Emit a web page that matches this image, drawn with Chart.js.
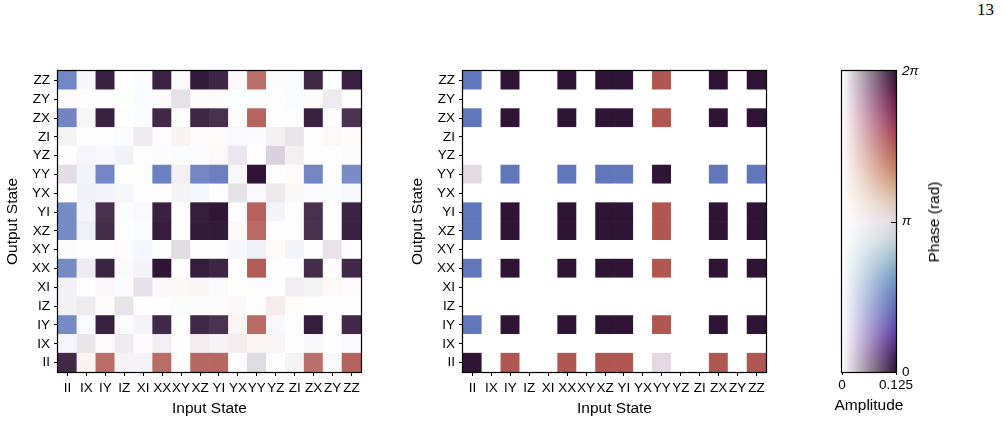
<!DOCTYPE html>
<html>
<head>
<meta charset="utf-8">
<script src="https://cdn.jsdelivr.net/npm/chart.js@4.4.1/dist/chart.umd.min.js"></script>
<style>
  html, body { margin: 0; padding: 0; background: #fff; }
  body { width: 1003px; height: 426px; position: relative; overflow: hidden;
         font-family: "Liberation Sans", Arial, sans-serif; color: #000; }
  canvas { position: absolute; top: 0; }
  #pageNum { position: absolute; left: 977px; top: 0px; font-family: "Liberation Serif", "DejaVu Serif", serif; font-size: 17px; }
  #phaseTitle { position: absolute; left: 934px; top: 222px; transform: translate(-50%, -50%) rotate(-90deg);
                font-size: 15.5px; white-space: nowrap; }
  #ampTitle { position: absolute; left: 869px; top: 405px; transform: translate(-50%, -50%);
              font-size: 15.5px; white-space: nowrap; }
</style>
</head>
<body>
<div id="pageNum">13</div>
<canvas id="expChart" width="370" height="426" style="left:0px"></canvas>
<canvas id="idealChart" width="370" height="426" style="left:405px"></canvas>
<canvas id="cbarChart" width="203" height="426" style="left:800px"></canvas>
<div id="phaseTitle">Phase (rad)</div>
<div id="ampTitle">Amplitude</div>

<script>
// Pauli basis states, rows go bottom (II) to top (ZZ)
const stateLabels = ['II', 'IX', 'IY', 'IZ', 'XI', 'XX', 'XY', 'XZ', 'YI', 'YX', 'YY', 'YZ', 'ZI', 'ZX', 'ZY', 'ZZ'];
const ampMax = 0.125;

// measured process matrix: amplitude, one row per output state
const expAmp = [
  [0.114, 0.009, 0.109, 0.007, 0.007, 0.109, 0.001, 0.112, 0.113, 0.001, 0.108, 0.001, 0.006, 0.107, 0.005, 0.116],
  [0.007, 0.013, 0.003, 0.010, 0.005, 0.009, 0.001, 0.012, 0.007, 0.012, 0.012, 0.006, 0.001, 0.004, 0.001, 0.005],
  [0.108, 0.004, 0.119, 0.004, 0.008, 0.114, 0.004, 0.114, 0.109, 0.010, 0.111, 0.004, 0.001, 0.121, 0.001, 0.114],
  [0.007, 0.010, 0.005, 0.014, 0.004, 0.004, 0.002, 0.002, 0.003, 0.005, 0.001, 0.014, 0.003, 0.003, 0.001, 0.001],
  [0.007, 0.001, 0.006, 0.004, 0.016, 0.006, 0.007, 0.007, 0.005, 0.003, 0.003, 0.001, 0.010, 0.006, 0.006, 0.003],
  [0.108, 0.011, 0.117, 0.004, 0.008, 0.125, 0.001, 0.121, 0.116, 0.001, 0.121, 0.001, 0.001, 0.112, 0.001, 0.114],
  [0.002, 0.001, 0.001, 0.003, 0.009, 0.001, 0.019, 0.001, 0.001, 0.007, 0.012, 0.005, 0.009, 0.001, 0.015, 0.001],
  [0.108, 0.013, 0.112, 0.001, 0.004, 0.121, 0.001, 0.122, 0.122, 0.006, 0.111, 0.001, 0.001, 0.110, 0.001, 0.118],
  [0.108, 0.008, 0.110, 0.003, 0.005, 0.118, 0.001, 0.121, 0.124, 0.001, 0.116, 0.008, 0.001, 0.110, 0.001, 0.117],
  [0.001, 0.011, 0.010, 0.009, 0.001, 0.002, 0.006, 0.009, 0.001, 0.015, 0.003, 0.012, 0.004, 0.004, 0.004, 0.006],
  [0.112, 0.012, 0.112, 0.002, 0.002, 0.116, 0.009, 0.111, 0.115, 0.004, 0.125, 0.001, 0.005, 0.112, 0.001, 0.105],
  [0.001, 0.007, 0.004, 0.011, 0.001, 0.002, 0.004, 0.004, 0.006, 0.013, 0.004, 0.025, 0.008, 0.001, 0.001, 0.004],
  [0.006, 0.001, 0.001, 0.004, 0.011, 0.003, 0.010, 0.004, 0.004, 0.005, 0.004, 0.008, 0.014, 0.001, 0.006, 0.004],
  [0.109, 0.005, 0.119, 0.001, 0.004, 0.114, 0.001, 0.115, 0.110, 0.004, 0.115, 0.001, 0.001, 0.119, 0.004, 0.109],
  [0.002, 0.001, 0.001, 0.002, 0.004, 0.004, 0.016, 0.004, 0.004, 0.002, 0.001, 0.001, 0.004, 0.005, 0.011, 0.004],
  [0.112, 0.006, 0.119, 0.001, 0.003, 0.117, 0.003, 0.122, 0.116, 0.005, 0.107, 0.004, 0.003, 0.114, 0.002, 0.119]
];
// measured phase, in units of pi
const expPhase = [
  [0, 1.5, 1.5, 0.2, 0.2, 1.5, 0, 1.5, 1.5, 0, 0.95, 0, 0, 1.5, 0.4, 1.5],
  [0.35, 0, 1.6, 0, 1.2, 0.1, 0, 1.7, 1.8, 1.6, 1.3, 1.7, 0, 0, 0, 0.35],
  [0.5, 0.55, 0, 0.55, 0.35, 0, 1.2, 0, 0, 1.4, 1.5, 0, 0, 0, 0, 0],
  [0, 0, 1.2, 0, 1.2, 1.2, 0, 0, 1.7, 1.6, 0, 1.5, 1.2, 1.2, 0, 0],
  [0.1, 0, 1.6, 0.55, 0.1, 1.6, 1.4, 1.45, 0.4, 1.2, 1.2, 0, 0.05, 0, 1.4, 1.7],
  [0.5, 0.1, 0, 0.35, 0.35, 0, 0, 0, 0, 0, 1.5, 0, 0, 0, 0, 0],
  [1.7, 0, 0, 1.6, 0.6, 0, 0.05, 0, 0, 0.4, 0.35, 1.35, 0.5, 0, 0.05, 0],
  [0.5, 0.4, 0, 0, 0.5, 0, 0, 0, 0, 1.45, 1.5, 0, 0, 0, 0, 0],
  [0.5, 0.35, 0, 0.55, 0.4, 0, 0, 0, 0, 0, 1.5, 0.35, 0, 0, 0, 0],
  [0, 0.45, 0.55, 0.55, 0, 0.6, 0, 0.6, 0, 0, 0, 1.9, 1.9, 0.6, 0.6, 0.45],
  [1, 0.62, 0.5, 1.2, 0.55, 0.5, 1.85, 0.5, 0.48, 0, 0, 0, 1.25, 0.5, 0, 0.5],
  [0, 0.35, 0, 0.45, 0, 0.3, 0.55, 0.55, 1.45, 0.1, 1.2, 0.08, 1.95, 0, 0, 0.55],
  [0, 0, 0, 0.6, 0.05, 1.2, 1.45, 1.25, 1.25, 0.35, 0.55, 1.95, 0.05, 0, 1.45, 1.25],
  [0.47, 0, 0, 0, 0.55, 0, 0, 0, 0, 1.25, 1.5, 0, 0, 0, 0.55, 0],
  [1.7, 0, 0, 1.2, 0.55, 1.25, 1.95, 1.25, 1.25, 0.7, 0, 0, 0.55, 1.3, 0.05, 1.2],
  [0.5, 0.35, 0, 0, 0.55, 0, 0, 0, 0, 1.5, 1.5, 1.25, 0.55, 0, 0.7, 0]
];

// ideal process matrix
const idealAmp = [
  [0.125, 0, 0.125, 0, 0, 0.125, 0, 0.125, 0.125, 0, 0.125, 0, 0, 0.125, 0, 0.125],
  [0, 0, 0, 0, 0, 0, 0, 0, 0, 0, 0, 0, 0, 0, 0, 0],
  [0.125, 0, 0.125, 0, 0, 0.125, 0, 0.125, 0.125, 0, 0.125, 0, 0, 0.125, 0, 0.125],
  [0, 0, 0, 0, 0, 0, 0, 0, 0, 0, 0, 0, 0, 0, 0, 0],
  [0, 0, 0, 0, 0, 0, 0, 0, 0, 0, 0, 0, 0, 0, 0, 0],
  [0.125, 0, 0.125, 0, 0, 0.125, 0, 0.125, 0.125, 0, 0.125, 0, 0, 0.125, 0, 0.125],
  [0, 0, 0, 0, 0, 0, 0, 0, 0, 0, 0, 0, 0, 0, 0, 0],
  [0.125, 0, 0.125, 0, 0, 0.125, 0, 0.125, 0.125, 0, 0.125, 0, 0, 0.125, 0, 0.125],
  [0.125, 0, 0.125, 0, 0, 0.125, 0, 0.125, 0.125, 0, 0.125, 0, 0, 0.125, 0, 0.125],
  [0, 0, 0, 0, 0, 0, 0, 0, 0, 0, 0, 0, 0, 0, 0, 0],
  [0.125, 0, 0.125, 0, 0, 0.125, 0, 0.125, 0.125, 0, 0.125, 0, 0, 0.125, 0, 0.125],
  [0, 0, 0, 0, 0, 0, 0, 0, 0, 0, 0, 0, 0, 0, 0, 0],
  [0, 0, 0, 0, 0, 0, 0, 0, 0, 0, 0, 0, 0, 0, 0, 0],
  [0.125, 0, 0.125, 0, 0, 0.125, 0, 0.125, 0.125, 0, 0.125, 0, 0, 0.125, 0, 0.125],
  [0, 0, 0, 0, 0, 0, 0, 0, 0, 0, 0, 0, 0, 0, 0, 0],
  [0.125, 0, 0.125, 0, 0, 0.125, 0, 0.125, 0.125, 0, 0.125, 0, 0, 0.125, 0, 0.125]
];
const idealPhase = [
  [0, 0, 1.5, 0, 0, 1.5, 0, 1.5, 1.5, 0, 1, 0, 0, 1.5, 0, 1.5],
  [0, 0, 0, 0, 0, 0, 0, 0, 0, 0, 0, 0, 0, 0, 0, 0],
  [0.5, 0, 0, 0, 0, 0, 0, 0, 0, 0, 1.5, 0, 0, 0, 0, 0],
  [0, 0, 0, 0, 0, 0, 0, 0, 0, 0, 0, 0, 0, 0, 0, 0],
  [0, 0, 0, 0, 0, 0, 0, 0, 0, 0, 0, 0, 0, 0, 0, 0],
  [0.5, 0, 0, 0, 0, 0, 0, 0, 0, 0, 1.5, 0, 0, 0, 0, 0],
  [0, 0, 0, 0, 0, 0, 0, 0, 0, 0, 0, 0, 0, 0, 0, 0],
  [0.5, 0, 0, 0, 0, 0, 0, 0, 0, 0, 1.5, 0, 0, 0, 0, 0],
  [0.5, 0, 0, 0, 0, 0, 0, 0, 0, 0, 1.5, 0, 0, 0, 0, 0],
  [0, 0, 0, 0, 0, 0, 0, 0, 0, 0, 0, 0, 0, 0, 0, 0],
  [1, 0, 0.5, 0, 0, 0.5, 0, 0.5, 0.5, 0, 0, 0, 0, 0.5, 0, 0.5],
  [0, 0, 0, 0, 0, 0, 0, 0, 0, 0, 0, 0, 0, 0, 0, 0],
  [0, 0, 0, 0, 0, 0, 0, 0, 0, 0, 0, 0, 0, 0, 0, 0],
  [0.5, 0, 0, 0, 0, 0, 0, 0, 0, 0, 1.5, 0, 0, 0, 0, 0],
  [0, 0, 0, 0, 0, 0, 0, 0, 0, 0, 0, 0, 0, 0, 0, 0],
  [0.5, 0, 0, 0, 0, 0, 0, 0, 0, 0, 1.5, 0, 0, 0, 0, 0]
];

// colorbar ticks
const ampTicks = [0, 0.125];
const ampTickLabels = ['0', '0.125'];
const phaseTicks = [0, Math.PI, 2 * Math.PI];
const phaseTickLabels = ['0', 'π', '2π'];

// cyclic phase colormap (twilight-like, shifted), t in [0,1]
const cmapStops = [
  [0.0, 47, 20, 54], [0.0625, 72, 30, 102], [0.125, 94, 58, 158], [0.1875, 93, 92, 180],
  [0.25, 96, 120, 187], [0.3125, 112, 152, 196], [0.375, 152, 183, 205], [0.4375, 196, 210, 217],
  [0.5, 226, 217, 226], [0.5625, 222, 198, 182], [0.625, 210, 160, 130], [0.6875, 196, 120, 94],
  [0.75, 176, 87, 81], [0.8125, 158, 56, 86], [0.875, 125, 34, 80], [0.9375, 85, 22, 64], [1.0, 47, 20, 54]
];

function phaseColor(t) {
  t = ((t % 1) + 1) % 1;
  for (let k = 1; k < cmapStops.length; k++) {
    const a = cmapStops[k - 1], b = cmapStops[k];
    if (t <= b[0]) {
      const f = (t - a[0]) / (b[0] - a[0]);
      return [a[1] + f * (b[1] - a[1]), a[2] + f * (b[2] - a[2]), a[3] + f * (b[3] - a[3])];
    }
  }
  return cmapStops[0].slice(1);
}

// amplitude fades the phase colour towards white
function mixRGB(amp, phasePi) {
  const s = Math.max(0, Math.min(amp / ampMax, 1));
  const c = phaseColor(phasePi / 2);
  return c.map(v => Math.round(255 - s * (255 - v)));
}

function cellColor(amp, phasePi) {
  const c = mixRGB(amp, phasePi);
  return 'rgb(' + c.join(',') + ')';
}

Chart.defaults.font.family = '"Liberation Sans", Arial, sans-serif';
Chart.defaults.color = '#000';

const framePlugin = {
  id: 'frame',
  afterDatasetsDraw(chart) {
    const { ctx, chartArea: a } = chart;
    ctx.save();
    ctx.strokeStyle = '#000';
    ctx.lineWidth = 1.2;
    ctx.strokeRect(a.left - 0.5, a.top - 0.5, a.right - a.left + 1, a.bottom - a.top + 1);
    ctx.restore();
  }
};

function makeHeatmap(id, amp, phase) {
  const datasets = stateLabels.map((rowName, r) => ({
    label: rowName,
    data: stateLabels.map(() => [r, r + 1]),
    backgroundColor: stateLabels.map((_, c) => cellColor(amp[r][c], phase[r][c])),
    borderWidth: 0,
    barPercentage: 1,
    categoryPercentage: 1,
    grouped: false
  }));

  return new Chart(document.getElementById(id), {
    type: 'bar',
    data: { labels: stateLabels, datasets },
    options: {
      responsive: false,
      devicePixelRatio: 1,
      animation: false,
      layout: { padding: { top: 71, right: 9, bottom: 0, left: 0 } },
      plugins: { legend: { display: false }, tooltip: { enabled: false } },
      scales: {
        x: {
          type: 'category',
          offset: true,
          grid: { drawOnChartArea: false, offset: false, tickLength: 4, color: '#000' },
          border: { display: false },
          ticks: { font: { size: 13.5 }, color: '#000', autoSkip: false, maxRotation: 0, minRotation: 0, padding: 4 },
          title: { display: true, text: 'Input State', font: { size: 15.5 }, color: '#000', padding: { top: 0, bottom: 8 } },
          afterFit: s => { s.height = 54; }
        },
        y: {
          type: 'linear',
          min: 0,
          max: 16,
          afterBuildTicks: s => { s.ticks = stateLabels.map((_, i) => ({ value: i + 0.5 })); },
          grid: { drawOnChartArea: false, tickLength: 4, color: '#000' },
          border: { display: false },
          ticks: { font: { size: 13.5 }, color: '#000', autoSkip: false, padding: 4,
                   callback: (v, i) => stateLabels[i] },
          title: { display: true, text: 'Output State', font: { size: 15.5 }, color: '#000', padding: { top: 3, bottom: 0 } },
          afterFit: s => { s.width = 58; }
        }
      }
    },
    plugins: [framePlugin]
  });
}

makeHeatmap('expChart', expAmp, expPhase);
makeHeatmap('idealChart', idealAmp, idealPhase);

// 2D colour key: amplitude along x, phase along y
const keyPlugin = {
  id: 'ampPhaseKey',
  beforeDatasetsDraw(chart) {
    const { ctx, chartArea: a, scales: { x, y } } = chart;
    const x0 = Math.round(a.left), y0 = Math.round(a.top);
    const w = Math.round(a.right) - x0, h = Math.round(a.bottom) - y0;
    const img = ctx.createImageData(w, h);
    for (let j = 0; j < h; j++) {
      const ph = y.getValueForPixel(y0 + j + 0.5) / Math.PI;
      for (let i = 0; i < w; i++) {
        const am = x.getValueForPixel(x0 + i + 0.5);
        const c = mixRGB(am, ph);
        const k = (j * w + i) * 4;
        img.data[k] = c[0]; img.data[k + 1] = c[1]; img.data[k + 2] = c[2]; img.data[k + 3] = 255;
      }
    }
    ctx.putImageData(img, x0, y0);
  },
  afterDatasetsDraw(chart) {
    const { ctx, chartArea: a, scales: { y } } = chart;
    const py = Math.round(y.getPixelForValue(Math.PI)) + 0.5;
    ctx.save();
    ctx.strokeStyle = '#000';
    ctx.lineWidth = 1;
    ctx.beginPath();
    ctx.moveTo(a.right - 5, py);
    ctx.lineTo(a.right, py);
    ctx.stroke();
    ctx.restore();
  }
};

new Chart(document.getElementById('cbarChart'), {
  type: 'scatter',
  data: { datasets: [] },
  options: {
    responsive: false,
    devicePixelRatio: 1,
    animation: false,
    layout: { padding: { top: 71, right: 0, bottom: 0, left: 42 } },
    plugins: { legend: { display: false }, tooltip: { enabled: false } },
    scales: {
      x: {
        type: 'linear',
        min: 0,
        max: ampMax,
        afterBuildTicks: s => { s.ticks = ampTicks.map(v => ({ value: v })); },
        grid: { drawOnChartArea: false, tickLength: 3, color: '#000' },
        border: { display: false },
        ticks: { font: { size: 13.5 }, color: '#000', maxRotation: 0, padding: 2,
                 callback: (v, i) => ampTickLabels[i] },
        afterFit: s => { s.height = 54; }
      },
      y: {
        type: 'linear',
        position: 'right',
        min: 0,
        max: 2 * Math.PI,
        afterBuildTicks: s => { s.ticks = phaseTicks.map(v => ({ value: v })); },
        grid: { drawOnChartArea: false, drawTicks: false },
        border: { display: false },
        ticks: { color: '#000', padding: 6,
                 font: c => ({ size: 13.5, style: c.index > 0 ? 'italic' : 'normal' }),
                 callback: (v, i) => phaseTickLabels[i] },
        afterFit: s => { s.width = 107; }
      }
    }
  },
  plugins: [keyPlugin, framePlugin]
});
</script>
</body>
</html>
